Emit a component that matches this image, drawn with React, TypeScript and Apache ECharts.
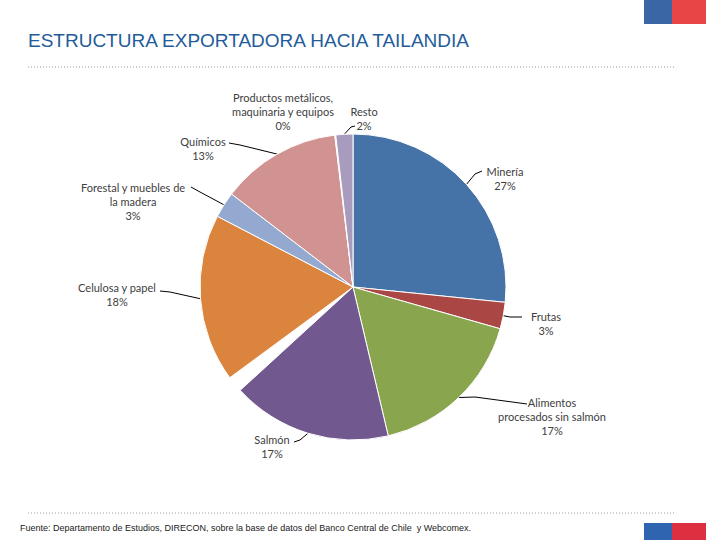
import React, { useEffect, useRef } from "react";
import * as echarts from "echarts";

const categories = [
  "Minería",
  "Frutas",
  "Alimentos\nprocesados sin salmón",
  "Salmón",
  "",
  "Celulosa y papel",
  "Forestal y muebles de\nla madera",
  "Químicos",
  "Productos metálicos,\nmaquinaria y equipos",
  "Resto",
];
const values = [26.6, 2.8, 16.9, 16.9, 1.7, 17.75, 2.75, 12.7, 0.1, 1.8];
const blankIndex = 4;
const colors = [
  "#4572A7",
  "#AA4643",
  "#89A54E",
  "#71588F",
  "rgba(0,0,0,0)",
  "#DB843D",
  "#93A9CF",
  "#D19392",
  "#E8EBC8",
  "#A99BBD",
];
const titleText = "ESTRUCTURA EXPORTADORA HACIA TAILANDIA";
const sourceText =
  "Fuente: Departamento de Estudios, DIRECON, sobre la base de datos del Banco Central de Chile  y Webcomex.";

// label placement: [centerX, topY, lineEndX, lineEndY, bendX, bendY]
const labelPlaces: (number[] | null)[] = [
  [505, 164, 482, 171, 475, 174],
  [546, 309, 522, 317, 510, 317],
  [552, 395, 527, 404, 475, 397],
  [272, 432, 294, 442, 300, 440],
  null,
  [117, 280, 160, 291, 170, 292],
  [133, 180, 191, 187, 200, 192],
  [203, 134, 229, 143, 240, 145],
  [283, 90, -1, -1, -1, -1],
  [364, 104, 355, 126, 351, 127],
];

export default function App() {
  const ref = useRef<HTMLDivElement>(null);
  useEffect(() => {
    if (!ref.current) return;
    const chart = echarts.init(ref.current, null, { renderer: "svg" });
    const realTotal = values.reduce((s, v, i) => (i === blankIndex ? s : s + v), 0);
    const data = categories.map((name, i) => {
      if (i === blankIndex) {
        return {
          name: "blank",
          value: values[i],
          itemStyle: { color: colors[i], borderWidth: 0 },
          label: { show: false },
          labelLine: { show: false },
        };
      }
      const place = labelPlaces[i];
      return {
        name,
        value: values[i],
        itemStyle: { color: colors[i] },
        labelLine: { show: place ? place[2] >= 0 : false },
      };
    });
    chart.setOption({
      animation: false,
      backgroundColor: "#ffffff",
      graphic: [
        {
          type: "text",
          x: 28,
          y: 40,
          style: {
            text: titleText,
            font: '19px "Liberation Sans", Arial, sans-serif',
            fill: "#1F5C99",
            verticalAlign: "middle",
          },
        },
        {
          type: "line",
          shape: { x1: 28, y1: 67, x2: 676, y2: 67 },
          style: { stroke: "#9a9a9a", lineWidth: 1, lineDash: [1, 2] },
        },
        {
          type: "line",
          shape: { x1: 28, y1: 513, x2: 676, y2: 513 },
          style: { stroke: "#9a9a9a", lineWidth: 1, lineDash: [1, 2] },
        },
        {
          type: "text",
          x: 20,
          y: 528,
          style: {
            text: sourceText,
            font: '9px "Liberation Sans", Arial, sans-serif',
            fill: "#222222",
            verticalAlign: "middle",
          },
        },
        { type: "rect", shape: { x: 644, y: 0, width: 28, height: 24 }, style: { fill: "#3A66A6" } },
        { type: "rect", shape: { x: 672, y: 0, width: 34, height: 24 }, style: { fill: "#E84646" } },
        { type: "rect", shape: { x: 644, y: 523, width: 28, height: 17 }, style: { fill: "#2E64B0" } },
        { type: "rect", shape: { x: 672, y: 523, width: 34, height: 17 }, style: { fill: "#DC3040" } },
      ],
      series: [
        {
          type: "pie",
          center: [353, 287],
          radius: 153,
          startAngle: 90,
          clockwise: true,
          avoidLabelOverlap: false,
          itemStyle: { borderColor: "#ffffff", borderWidth: 1 },
          emphasis: { disabled: true },
          label: {
            show: true,
            position: "outside",
            formatter: (p: any) =>
              `${p.name}\n${Math.round((p.value / realTotal) * 100)}%`,
            fontFamily: "Lato, 'Open Sans', sans-serif",
            fontSize: 11,
            lineHeight: 14,
            color: "#404040",
            align: "center",
          },
          labelLine: {
            show: true,
            lineStyle: { color: "#000000", width: 1 },
            smooth: false,
          },
          labelLayout: (params: any) => {
            const place = labelPlaces[params.dataIndex];
            if (!place) return {};
            const res: any = {
              x: place[0],
              y: place[1],
              align: "center",
              verticalAlign: "top",
            };
            if (place[2] >= 0 && params.labelLinePoints) {
              const p0 = params.labelLinePoints[0];
              res.labelLinePoints = [
                [p0[0], p0[1]],
                [place[4], place[5]],
                [place[2], place[3]],
              ];
            }
            return res;
          },
          data,
        },
      ],
    });
    return () => chart.dispose();
  }, []);
  return (
    <div
      ref={ref}
      style={{ position: "fixed", left: 0, top: 0, width: 720, height: 540 }}
    />
  );
}
